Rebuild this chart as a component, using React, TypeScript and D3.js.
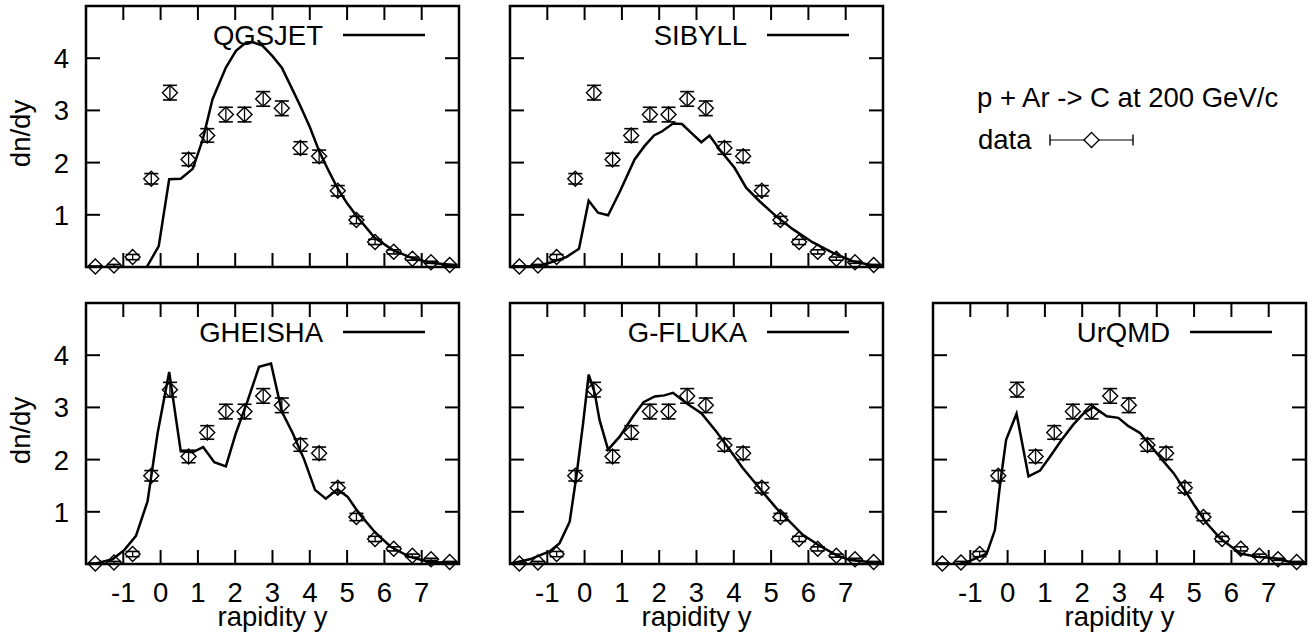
import React from 'react';
import * as d3 from 'd3';

// ---- data ----
const rapidity = [-1.75, -1.25, -0.75, -0.25, 0.25, 0.75, 1.25, 1.75, 2.25, 2.75, 3.25, 3.75, 4.25, 4.75, 5.25, 5.75, 6.25, 6.75, 7.25, 7.75];
const dataDnDy = [0.01, 0.03, 0.19, 1.69, 3.34, 2.06, 2.52, 2.92, 2.92, 3.22, 3.04, 2.28, 2.12, 1.46, 0.9, 0.48, 0.29, 0.16, 0.09, 0.04];
const dataErr = [0.01, 0.02, 0.05, 0.1, 0.14, 0.12, 0.13, 0.14, 0.14, 0.14, 0.14, 0.12, 0.12, 0.1, 0.07, 0.05, 0.04, 0.03, 0.02, 0.01];

const qgsjetX = [-0.37, -0.05, 0.23, 0.54, 0.86, 1.13, 1.39, 1.75, 2.02, 2.29, 2.46, 2.73, 3.0, 3.25, 3.5, 3.75, 4.0, 4.25, 4.5, 4.75, 5.0, 5.25, 5.74, 6.24, 6.75, 7.24, 7.95];
const qgsjetY = [0, 0.4, 1.68, 1.69, 1.88, 2.44, 3.21, 3.82, 4.14, 4.3, 4.31, 4.24, 4.04, 3.82, 3.45, 3.08, 2.68, 2.22, 1.85, 1.5, 1.22, 0.98, 0.56, 0.32, 0.17, 0.08, 0.03];

const sibyllX = [-2.0, -1.25, -0.94, -0.49, -0.15, 0.11, 0.36, 0.63, 0.95, 1.34, 1.61, 1.86, 2.08, 2.37, 2.61, 2.86, 3.13, 3.35, 3.62, 4.02, 4.33, 4.69, 5.14, 5.59, 6.12, 6.66, 7.19, 7.73, 8.0];
const sibyllY = [0, 0.02, 0.08, 0.19, 0.35, 1.27, 1.04, 0.99, 1.45, 2.06, 2.32, 2.52, 2.6, 2.75, 2.74, 2.57, 2.39, 2.52, 2.25, 1.9, 1.52, 1.26, 0.97, 0.72, 0.47, 0.27, 0.11, 0.03, 0.02];

const gheishaX = [-1.73, -1.29, -0.97, -0.66, -0.35, -0.08, 0.23, 0.54, 0.86, 1.14, 1.44, 1.75, 2.02, 2.33, 2.64, 2.96, 3.25, 3.54, 3.85, 4.14, 4.43, 4.74, 5.01, 5.32, 5.77, 6.17, 6.66, 7.2, 8.0];
const gheishaY = [0.01, 0.09, 0.27, 0.54, 1.2, 2.51, 3.68, 2.16, 2.14, 2.24, 1.95, 1.87, 2.51, 3.12, 3.78, 3.84, 2.92, 2.51, 2.0, 1.42, 1.25, 1.43, 1.29, 0.97, 0.59, 0.33, 0.14, 0.04, 0.02];

const gflukaX = [-1.97, -1.47, -0.94, -0.67, -0.4, -0.22, -0.04, 0.11, 0.27, 0.4, 0.63, 0.94, 1.3, 1.58, 1.88, 2.14, 2.37, 2.73, 3.13, 3.53, 3.89, 4.24, 4.69, 5.14, 5.5, 5.85, 6.3, 6.75, 7.1, 7.73];
const gflukaY = [0.01, 0.09, 0.24, 0.4, 0.81, 1.68, 2.7, 3.63, 3.28, 2.76, 2.19, 2.44, 2.83, 3.1, 3.21, 3.23, 3.28, 3.08, 2.89, 2.54, 2.19, 1.84, 1.45, 1.07, 0.81, 0.56, 0.35, 0.17, 0.08, 0.03];

const urqmdX = [-1.28, -1.01, -0.56, -0.34, -0.21, -0.04, 0.24, 0.56, 0.87, 1.14, 1.45, 1.76, 2.03, 2.3, 2.66, 2.97, 3.24, 3.55, 3.82, 4.14, 4.45, 4.72, 5.03, 5.34, 5.7, 6.24, 6.69, 7.14, 7.58, 7.99];
const urqmdY = [0, 0.06, 0.2, 0.65, 1.48, 2.38, 2.88, 1.68, 1.79, 2.06, 2.38, 2.67, 2.88, 3.01, 2.83, 2.8, 2.64, 2.51, 2.28, 2.0, 1.74, 1.45, 1.1, 0.78, 0.49, 0.2, 0.14, 0.11, 0.04, 0.03];

const xTicks = [-1, 0, 1, 2, 3, 4, 5, 6, 7];
const xTickLabels = ['-1', '0', '1', '2', '3', '4', '5', '6', '7'];
const yTicks = [1, 2, 3, 4];
const yTickLabels = ['1', '2', '3', '4'];

const modelNames = ['QGSJET', 'SIBYLL', 'GHEISHA', 'G-FLUKA', 'UrQMD'];
const modelXs = [qgsjetX, sibyllX, gheishaX, gflukaX, urqmdX];
const modelYs = [qgsjetY, sibyllY, gheishaY, gflukaY, urqmdY];

const legendTitle = 'p + Ar -> C at 200 GeV/c';
const legendData = 'data';
const xLabel = 'rapidity y';
const yLabel = 'dn/dy';

// ---- layout ----
const W = 1314;
const H = 642;
const PW = 373;
const PH = 261;
const panelPos = [
  { left: 86, top: 6, col: 0, row: 0 },
  { left: 510, top: 6, col: 1, row: 0 },
  { left: 86, top: 303, col: 0, row: 1 },
  { left: 510, top: 303, col: 1, row: 1 },
  { left: 933, top: 303, col: 2, row: 1 },
];
const FONT = '"Liberation Sans", Arial, Helvetica, sans-serif';
const FS = 27.5;
const TICK = 14;

function Diamond({ cx, cy, r }: { cx: number; cy: number; r: number }) {
  return (
    <path
      d={`M${cx - r},${cy} L${cx},${cy - r} L${cx + r},${cy} L${cx},${cy + r} Z`}
      fill="none"
      stroke="#000"
      strokeWidth={1.4}
    />
  );
}

function Panel({ idx }: { idx: number }) {
  const pos = panelPos[idx];
  const x = d3.scaleLinear().domain([-2, 8]).range([0, PW]);
  const y = d3.scaleLinear().domain([0, 5]).range([PH, 0]);
  const pts = modelXs[idx].map((v, i) => [v, modelYs[idx][i]] as [number, number]);
  const line = d3
    .line<[number, number]>()
    .x((d) => x(d[0]))
    .y((d) => y(d[1]))
    .curve(d3.curveLinear);
  const showY = pos.col === 0;
  const showX = pos.row === 1;
  return (
    <g transform={`translate(${pos.left},${pos.top})`}>
      {/* ticks */}
      {xTicks.map((t) => (
        <g key={'xt' + t}>
          <line x1={x(t)} x2={x(t)} y1={PH} y2={PH - TICK} stroke="#000" strokeWidth={2} />
          <line x1={x(t)} x2={x(t)} y1={0} y2={TICK} stroke="#000" strokeWidth={2} />
        </g>
      ))}
      {yTicks.map((t) => (
        <g key={'yt' + t}>
          <line x1={0} x2={TICK} y1={y(t)} y2={y(t)} stroke="#000" strokeWidth={2} />
          <line x1={PW} x2={PW - TICK} y1={y(t)} y2={y(t)} stroke="#000" strokeWidth={2} />
        </g>
      ))}
      {/* frame */}
      <rect x={0} y={0} width={PW} height={PH} fill="none" stroke="#000" strokeWidth={2.5} />
      {/* tick labels */}
      {showY &&
        yTicks.map((t, i) => (
          <text key={'yl' + t} x={-17} y={y(t) + 10} textAnchor="end" fontFamily={FONT} fontSize={FS}>
            {yTickLabels[i]}
          </text>
        ))}
      {showX &&
        xTicks.map((t, i) => (
          <text key={'xl' + t} x={x(t)} y={PH + 38} textAnchor="middle" fontFamily={FONT} fontSize={FS}>
            {xTickLabels[i]}
          </text>
        ))}
      {showX && (
        <text x={PW / 2} y={PH + 62} textAnchor="middle" fontFamily={FONT} fontSize={FS}>
          {xLabel}
        </text>
      )}
      {showY && (
        <text
          transform={`translate(${-56},${PH / 2 - 3}) rotate(-90)`}
          textAnchor="middle"
          fontFamily={FONT}
          fontSize={FS}
        >
          {yLabel}
        </text>
      )}
      {/* model curve */}
      <path d={line(pts) || ''} fill="none" stroke="#000" strokeWidth={2.5} strokeLinejoin="miter" />
      {/* data */}
      {rapidity.map((r, i) => {
        const cx = x(r);
        const cy = y(dataDnDy[i]);
        const e1 = y(dataDnDy[i] + dataErr[i]);
        const e2 = y(Math.max(0, dataDnDy[i] - dataErr[i]));
        return (
          <g key={'d' + i}>
            <line x1={cx} x2={cx} y1={e1} y2={e2} stroke="#000" strokeWidth={1.3} />
            <line x1={cx - 7} x2={cx + 7} y1={e1} y2={e1} stroke="#000" strokeWidth={1.6} />
            <line x1={cx - 7} x2={cx + 7} y1={e2} y2={e2} stroke="#000" strokeWidth={1.6} />
            <Diamond cx={cx} cy={cy} r={7.5} />
          </g>
        );
      })}
      {/* model key */}
      <text x={237} y={39} textAnchor="end" fontFamily={FONT} fontSize={FS}>
        {modelNames[idx]}
      </text>
      <line x1={257} x2={339} y1={29} y2={29} stroke="#000" strokeWidth={2.5} />
    </g>
  );
}

export default function App() {
  return (
    <svg
      width={W}
      height={H}
      viewBox={`0 0 ${W} ${H}`}
      style={{ position: 'absolute', left: 0, top: 0, background: '#fff' }}
    >
      <rect x={0} y={0} width={W} height={H} fill="#fff" />
      {panelPos.map((_, i) => (
        <Panel key={i} idx={i} />
      ))}
      {/* data legend */}
      <text x={977} y={107} fontFamily={FONT} fontSize={FS}>
        {legendTitle}
      </text>
      <text x={978} y={149} fontFamily={FONT} fontSize={FS}>
        {legendData}
      </text>
      <line x1={1050} x2={1133} y1={140} y2={140} stroke="#000" strokeWidth={1.2} />
      <line x1={1050} x2={1050} y1={134.5} y2={145.5} stroke="#000" strokeWidth={1.4} />
      <line x1={1133} x2={1133} y1={134.5} y2={145.5} stroke="#000" strokeWidth={1.4} />
      <path d="M1084,140 L1091.5,132.5 L1099,140 L1091.5,147.5 Z" fill="#fff" stroke="#000" strokeWidth={1.3} />
    </svg>
  );
}
